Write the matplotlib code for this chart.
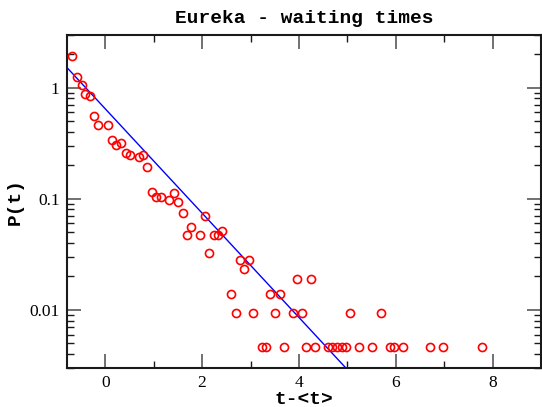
import numpy as np
import matplotlib
matplotlib.use("Agg")
import matplotlib.pyplot as plt
from matplotlib.ticker import FixedLocator, LogLocator, NullFormatter

# histogram points (t - <t>, P(t))
t_vals = [-0.68, -0.58, -0.49, -0.41, -0.32, -0.23, -0.14, 0.05, 0.14, 0.23,
          0.32, 0.42, 0.51, 0.69, 0.78, 0.87, 0.96, 1.05, 1.15, 1.32,
          1.42, 1.51, 1.60, 1.69, 1.78, 1.96, 2.05, 2.15, 2.24, 2.33,
          2.42, 2.60, 2.70, 2.78, 2.87, 2.96, 3.06, 3.24, 3.33, 3.41,
          3.51, 3.60, 3.69, 3.87, 3.96, 4.06, 4.15, 4.24, 4.33, 4.60,
          4.69, 4.79, 4.88, 4.97, 5.06, 5.25, 5.51, 5.70, 5.88, 5.97,
          6.15, 6.70, 6.97, 7.79]
p_vals = [1.91, 1.25, 1.06, 0.88, 0.84, 0.556, 0.464, 0.464, 0.340, 0.302,
          0.315, 0.256, 0.245, 0.237, 0.248, 0.191, 0.116, 0.103, 0.103, 0.097,
          0.112, 0.093, 0.075, 0.047, 0.056, 0.047, 0.070, 0.0326, 0.047, 0.047,
          0.0515, 0.014, 0.0093, 0.028, 0.0233, 0.028, 0.0093, 0.00467, 0.00467, 0.014,
          0.0093, 0.014, 0.00467, 0.0093, 0.0188, 0.0093, 0.00467, 0.0188, 0.00467, 0.00467,
          0.00467, 0.00467, 0.00467, 0.00467, 0.0093, 0.00467, 0.00467, 0.0093, 0.00467, 0.00467,
          0.00467, 0.00467, 0.00467, 0.00467]

# exponential fit line, end points
fit_t = [-0.77, 4.97]
fit_p = [1.48, 0.003]

mono = ["Liberation Mono", "DejaVu Sans Mono"]
serif = ["Liberation Serif", "DejaVu Serif"]

fig = plt.figure(figsize=(5.42, 4.07), dpi=100)
ax = fig.add_axes([0.1227, 0.0958, 0.8755, 0.8194])

ax.plot(fit_t, fit_p, color="#0000ff", lw=1.0, zorder=2)
ax.plot(t_vals, p_vals, "o", mfc="none", mec="#ff0000", ms=5.8, mew=1.2, zorder=3)

ax.set_yscale("log")
ax.set_xlim(-0.8, 9)
ax.set_ylim(0.003, 3)

ax.xaxis.set_major_locator(FixedLocator([0, 2, 4, 6, 8]))
ax.xaxis.set_minor_locator(FixedLocator([1, 3, 5, 7]))
ax.yaxis.set_major_locator(FixedLocator([0.01, 0.1, 1]))
ax.yaxis.set_minor_locator(LogLocator(base=10, subs=np.arange(2, 10)))
ax.yaxis.set_minor_formatter(NullFormatter())
ax.set_yticklabels(["0.01", "0.1", "1"])

ax.tick_params(which="both", direction="in", top=True, right=True)
ax.tick_params(which="major", length=10, width=1.2, color="0.35", pad=5)
ax.tick_params(which="minor", length=5, width=1.0, color="0.1")
for lab in ax.get_xticklabels() + ax.get_yticklabels():
    lab.set_family(serif)
    lab.set_fontsize(12.5)

for sp in ax.spines.values():
    sp.set_linewidth(1.5)
    sp.set_color("0.1")

ax.set_title("Eureka - waiting times", family=mono, fontweight="bold",
             fontsize=14, pad=8)
ax.set_xlabel("t-<t>", family=mono, fontweight="bold", fontsize=14, labelpad=0)
ax.set_ylabel("P(t)", family=mono, fontweight="bold", fontsize=14, labelpad=4)

fig.savefig("out.png", dpi=100)
